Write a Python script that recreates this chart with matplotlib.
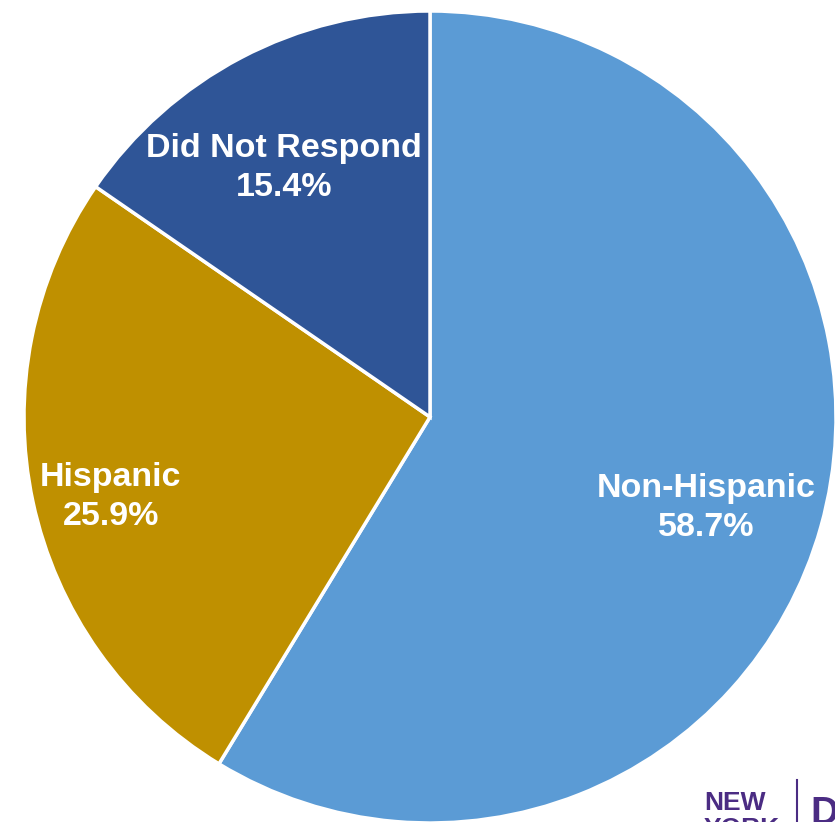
import matplotlib
matplotlib.use("Agg")
import matplotlib.pyplot as plt

categories = ["Non-Hispanic", "Hispanic", "Did Not Respond"]
values = [58.7, 25.9, 15.4]
colors = ["#5B9BD5", "#BF9000", "#2F5597"]

W, H = 835, 822
cx, cy, R = 430, 417, 406

fig = plt.figure(figsize=(W / 100, H / 100), dpi=100)
ax = fig.add_axes([0, 0, 1, 1])
ax.pie(values, colors=colors, startangle=90, counterclock=False, radius=1,
       wedgeprops=dict(edgecolor="white", linewidth=2.5))
ax.set_xlim(-cx / R, (W - cx) / R)
ax.set_ylim((cy - H) / R, cy / R)
ax.set_aspect("auto")
ax.axis("off")

def px(x, y):
    return (x - cx) / R, (cy - y) / R

label_pos = [(706, 508), (111, 497), (284, 168)]
for cat, v, (x, y) in zip(categories, values, label_pos):
    ax.text(*px(x, y), f"{cat}\n{v:.1f}%", ha="center", va="center",
            color="white", fontsize=24.5, fontweight="bold",
            family="Liberation Sans", linespacing=1.33)

purple = "#4B2C83"
ax.text(*px(704, 803), "NEW", ha="left", va="center", color=purple,
        fontsize=19, fontweight="heavy", family="Liberation Sans")
ax.text(*px(704, 829), "YORK", ha="left", va="center", color=purple,
        fontsize=19, fontweight="heavy", family="Liberation Sans")
ax.plot([(797 - cx) / R, (797 - cx) / R], [(cy - 780) / R, (cy - 830) / R],
        color=purple, lw=1.5, clip_on=False)
ax.text(*px(810, 814), "D", ha="left", va="center", color=purple,
        fontsize=28, fontweight="bold", family="Liberation Sans")

fig.savefig("out.png", dpi=100)
